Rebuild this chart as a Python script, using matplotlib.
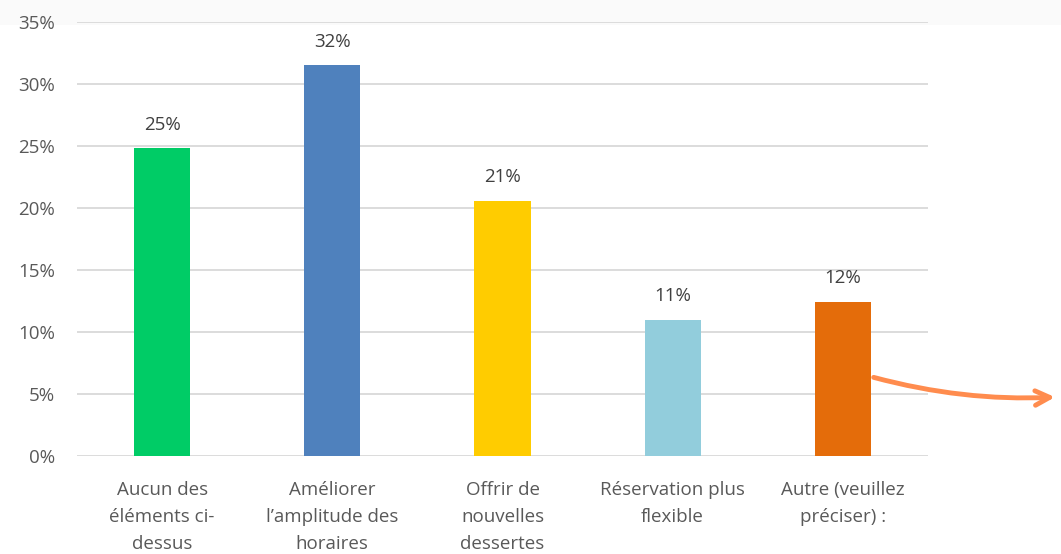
import matplotlib.pyplot as plt
from matplotlib.patches import Rectangle

categories = [
    "Aucun des\néléments ci-\ndessus",
    "Améliorer\nl’amplitude des\nhoraires",
    "Offrir de\nnouvelles\ndessertes",
    "Réservation plus\nflexible",
    "Autre (veuillez\npréciser) :",
]
values = [24.8, 31.5, 20.6, 11.0, 12.4]
labels = ["25%", "32%", "21%", "11%", "12%"]
colors = ["#00CC66", "#4F81BD", "#FFCC00", "#92CDDC", "#E46C0A"]
yticks = [0, 5, 10, 15, 20, 25, 30, 35]

plt.rcParams["font.family"] = ["Open Sans", "DejaVu Sans"]
text_color = "#595959"

fig = plt.figure(figsize=(10.61, 5.54), dpi=100)
fig.patches.append(Rectangle((0, 1 - 25 / 554), 1, 25 / 554, transform=fig.transFigure,
                             facecolor="#fafafa", edgecolor="none", zorder=-5))
ax = fig.add_axes([77 / 1061, (554 - 456) / 554, (928 - 77) / 1061, 434 / 554])
ax.patch.set_alpha(0)

x = list(range(len(categories)))
bars = ax.bar(x, values, width=0.33, color=colors, zorder=3)

for b, lab in zip(bars, labels):
    ax.text(b.get_x() + b.get_width() / 2, b.get_height() + 1.2, lab,
            ha="center", va="bottom", fontsize=13.5, color="#404040")

ax.set_xlim(-0.5, 4.5)
ax.set_ylim(0, 35)
ax.set_yticks(yticks)
ax.set_yticklabels([f"{t}%" for t in yticks], fontsize=13.5, color=text_color)
ax.set_xticks(x)
ax.set_xticklabels(categories, fontsize=13.5, color=text_color, linespacing=1.65)
ax.tick_params(axis="both", length=0)
ax.tick_params(axis="x", pad=18)
ax.tick_params(axis="y", pad=16)
ax.grid(axis="y", color="#d9d9d9", linewidth=1.3, zorder=0)
for s in ax.spines.values():
    s.set_visible(False)

# orange arrow leaving the "Autre" bar
ax.annotate("", xy=(0.997, 1 - 397 / 554), xycoords="figure fraction",
            xytext=(4 + 0.165, 6.4), textcoords="data",
            arrowprops=dict(arrowstyle="->", color="#FF8C4E", lw=3.5,
                            mutation_scale=26,
                            connectionstyle="arc3,rad=0.08"),
            annotation_clip=False, zorder=4)

fig.savefig("out.png", dpi=100)
